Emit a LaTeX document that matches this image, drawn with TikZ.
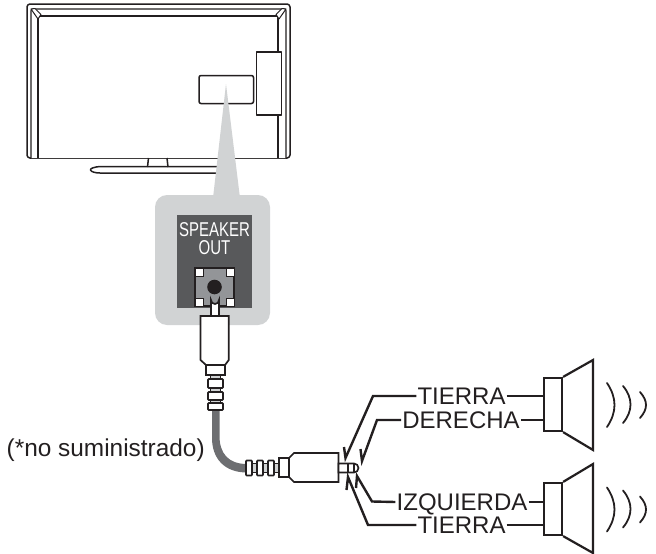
\documentclass[tikz,border=0pt]{standalone}
\usepackage{fontspec}
\setmainfont{Liberation Sans}
\definecolor{pale}{HTML}{D1D3D4}
\definecolor{panel}{HTML}{58595B}
\definecolor{sock}{HTML}{939598}
\definecolor{cable}{HTML}{6D6E71}
\definecolor{ink}{HTML}{231F20}
\tikzset{
  tv/.style={draw=ink,line width=1.5pt,fill=white,line join=round},
  thick line/.style={draw=ink,line width=1.7pt,fill=white,line join=miter},
  bead/.style={draw=ink,line width=1.7pt,fill=white,rounded corners=.8pt},
  neck/.style={draw=ink,line width=1.5pt,fill=pale},
  lead/.style={draw=ink,line width=2.4pt,line join=miter,fill=none},
  wire/.style={draw=ink,line width=2pt},
  lbl/.style={inner xsep=1pt,inner ysep=0pt,text height=17pt,text depth=0pt,text=ink,font=\fontsize{24}{24}\selectfont},
  panellbl/.style={inner sep=0pt,text=white,xscale=.75,font=\fontsize{20}{20}\selectfont},
  spk/.style={draw=ink,line width=2.2pt,fill=white,line join=miter},
  wave/.style={draw=ink,line width=1.8pt,line cap=round},
}
\begin{document}
\begin{tikzpicture}[x=1pt,y=-1pt]
\useasboundingbox (0,0) rectangle (656,554);
% TV
\draw[tv,rounded corners=3pt] (27,4) rectangle (290,158);
\draw[tv,line width=1.2pt,rounded corners=1.5pt] (31,158) -- (31,9) -- (286,9) -- (286,158);
\draw[tv] (38,158) -- (38,16) -- (278,16) -- (278,158);
\draw[tv,line width=1pt] (31,9) -- (35,8.5) -- (41,14.5) -- (38,19) -- cycle;
\draw[tv,line width=1pt] (286,9) -- (282,8.5) -- (276,14.5) -- (279,19) -- cycle;
% stand
\draw[tv] (148.5,158) -- (147.5,167) (167,158) -- (168,167);
\draw[tv,fill=none] (225,166.5) -- (100,166.5) .. controls (94,167) and (90,168.5) .. (90.5,170) .. controls (91,172) and (96,173) .. (100,173) -- (225,173);
\draw[tv,rounded corners=2pt] (199,75.5) rectangle (253.5,103.5);
\draw[tv] (256.5,52) rectangle (281.5,115);
% wedge and panel
\fill[pale] (226,84) -- (240,198) -- (213,198) -- cycle;
\fill[pale,rounded corners=12pt] (155,195) rectangle (270,325);
\fill[panel] (177,215) rectangle (252,308);
\node[panellbl] (spk) at (214.5,229.5) {SPEAKER};
\node[panellbl] (out) at (214.5,248) {OUT};
% socket
\fill[ink] (194,267) rectangle (235,307);
\fill[sock] (196,269) rectangle (233,305);
\foreach \sx/\sy in {196/269,227/269,196/299,227/299}
  \fill[white] (\sx,\sy) rectangle +(6.5,6.5);
\foreach \sx/\sy in {195/268,226/268,195/298,226/298}
  \draw[ink,line width=1pt] (\sx,\sy) rectangle +(8,8);
\fill[ink] (214.5,287) circle (7.3pt);
% vertical plug
\draw[thick line] (211,316) -- (211,300) arc[start angle=180,end angle=0,radius=4] -- (219,316);
\draw[thick line] (200.5,316) -- (228.8,316) -- (228.8,360) -- (225,365) -- (225,375) -- (206,375) -- (206,365) -- (200.5,360) -- cycle;
\draw[thick line,line width=1.2pt] (206,365) -- (225,365);
% cable
\fill[cable] (212,405) -- (219.5,405) -- (219.5,436) .. controls (219.5,453) and (228,464) .. (247,464) -- (247,472.5) .. controls (224,472.5) and (212,458) .. (212,438) -- cycle;
% vertical strain relief
\draw[neck] (210.5,375) rectangle (220.5,380);
\draw[neck] (210.5,388) rectangle (220.5,393);
\draw[neck] (210.5,400) rectangle (220.5,404);
\draw[bead] (208,379) rectangle (223,388);
\draw[bead] (208,392) rectangle (223,400);
\draw[bead] (208,403) rectangle (223,410);
% horizontal strain relief
\draw[neck] (252,463.5) rectangle (257,472.5);
\draw[neck] (263,463.5) rectangle (268,472.5);
\draw[neck] (274,463.5) rectangle (279,472.5);
\draw[bead] (246,460.5) rectangle (252,475.5);
\draw[bead] (257,460.5) rectangle (263,475.5);
\draw[bead] (268,460.5) rectangle (274,475.5);
% horizontal plug
\draw[thick line] (279,458) -- (289,458) -- (294,453) -- (338.5,453) -- (338.5,482) -- (294,482) -- (289,477) -- (279,477) -- cycle;
\draw[thick line,line width=1.2pt] (289,458) -- (289,477);
\draw[thick line] (338.5,463.5) -- (354,463.5) arc[start angle=-90,end angle=90,radius=4.5] -- (338.5,472.5) -- cycle;
\draw[ink,line width=1.1pt] (348,463.5) -- (348,472.5) (354,463.5) -- (354,472.5);
% labels
\node[lbl,anchor=base west,font=\fontsize{24.4}{24.4}\selectfont] (note) at (5.5,456) {(*no suministrado)};
\node[lbl] (t1) at (461.5,396) {TIERRA};
\node[lbl] (d1) at (461,420) {DERECHA};
\node[lbl] (i1) at (462,502) {IZQUIERDA};
\node[lbl] (t2) at (461.5,525) {TIERRA};
% leader corners, tips and half-head barbs
\coordinate (c1) at (373,396); \coordinate (a1) at (345.5,458); \coordinate (b1) at (344,447);
\coordinate (c2) at (377,420); \coordinate (a2) at (362,461); \coordinate (b2) at (360.5,449);
\coordinate (c3) at (372,501.5); \coordinate (a3) at (357,476); \coordinate (b3) at (356,488);
\coordinate (c4) at (368,525); \coordinate (a4) at (348,477); \coordinate (b4) at (346.5,490);
\draw[lead] (t1.west) -- (c1) -- (a1) -- (b1);
\draw[lead] (d1.west) -- (c2) -- (a2) -- (b2);
\draw[lead] (i1.west) -- (c3) -- (a3) -- (b3);
\draw[lead] (t2.west) -- (c4) -- (a4) -- (b4);
% speakers
\node[spk,draw,minimum width=18pt,minimum height=53pt,inner sep=0pt] (boxa) at (553,404.5) {};
\draw[spk] (boxa.north east) -- (593,360) -- (593,450) -- (boxa.south east);
\node[spk,draw,minimum width=18pt,minimum height=52pt,inner sep=0pt] (boxb) at (553,509) {};
\draw[spk] (boxb.north east) -- (593,464) -- (593,553) -- (boxb.south east);
\draw[wire] (t1.east) -- (t1.east -| boxa.west);
\draw[wire] (d1.east) -- (d1.east -| boxa.west);
\draw[wire] (i1.east) -- (i1.east -| boxb.west);
\draw[wire] (t2.east) -- (t2.east -| boxb.west);
% sound waves
\foreach \dy in {0,104.5}{
  \begin{scope}[yshift=-\dy pt]
    \draw[wave] (607,383) .. controls (617,398) and (617,412) .. (607,427);
    \draw[wave] (623,386) .. controls (633,398) and (633,411) .. (623,423);
    \draw[wave] (640,392) .. controls (648,401) and (648,409) .. (640,418);
  \end{scope}
}
\end{tikzpicture}
\end{document}
